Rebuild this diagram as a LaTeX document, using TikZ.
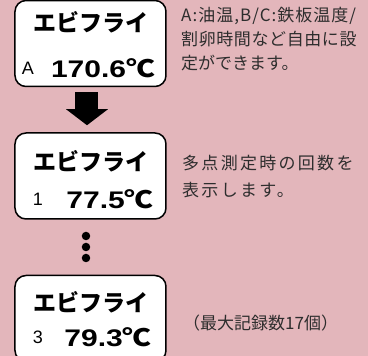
\documentclass[tikz,border=0pt]{standalone}
\usepackage{fontspec}
\usepackage{xcolor}
\usepackage{tikz}
\usetikzlibrary{positioning,arrows.meta}
\setmainfont{Liberation Sans}
\newfontfamily\jpfont{Noto Sans CJK JP}
\newfontfamily\numfont{Liberation Sans}[FakeStretch=1.25]
\definecolor{bgpink}{RGB}{227,182,187}
\definecolor{notegray}{RGB}{45,45,45}
\newcommand{\degc}{{\jpfont\bfseries\addfontfeature{FakeStretch=1.2}℃}}

\begin{document}
\begin{tikzpicture}[
  x=1pt, y=-1pt,
  node distance=45pt,
  lcdbox/.style={rectangle, rounded corners=11pt, draw=black, line width=1.5pt, fill=white, minimum width=151pt, minimum height=86pt, inner sep=0pt},
  titletext/.style={font=\fontsize{23}{23}\selectfont\jpfont\bfseries, inner sep=0pt},
  chantext/.style={font=\fontsize{18}{18}\selectfont, inner sep=0pt},
  valuetext/.style={font=\fontsize{24}{24}\selectfont\numfont\bfseries, inner sep=0pt},
  notetext/.style={font=\fontsize{17}{24}\selectfont\jpfont, text=notegray, align=left, anchor=north west, inner sep=0pt},
  dotnode/.style={circle, fill=black, minimum size=8.5pt, inner sep=0pt},
  bigarrow/.style={draw=black, line width=23pt, -{Triangle[width=41pt,length=16pt]}}
]
  % background and page size
  \fill[bgpink] (0,0) rectangle (368,356);
  \useasboundingbox (0,0) rectangle (368,356);
  \clip (0,0) rectangle (368,356);

  % the three display boxes
  \node[lcdbox] (box1) at (90.5,43.5) {};
  \node[lcdbox] (box2) [below=45pt of box1] {};
  \node[lcdbox] (box3) [below=55pt of box2] {};

  % texts shown on the displays
  \node[titletext] (name1) at (91,22) {エビフライ};
  \node[chantext]  (ch1)   at (28,68) {A};
  \node[valuetext] (val1)  at (103,68) {170.6\degc};
  \node[titletext] (name2) at (91,161) {エビフライ};
  \node[chantext]  (ch2)   at (38,199) {1};
  \node[valuetext] (val2)  at (110,199) {77.5\degc};
  \node[titletext] (name3) at (91,302) {エビフライ};
  \node[chantext]  (ch3)   at (38,337) {3};
  \node[valuetext] (val3)  at (108,337) {79.3\degc};

  % arrow and dots between the boxes
  \draw[bigarrow, shorten <=5pt, shorten >=7pt] ([xshift=-3.5pt]box1.south) -- ([xshift=-3.5pt]box2.north);
  \node[dotnode] (dot1) at (86,236) {};
  \node[dotnode] (dot2) at (86,247) {};
  \node[dotnode] (dot3) at (86,258) {};

  % notes on the right
  \node[notetext] (note1) at (181,7) {{\addfontfeature{LetterSpace=6}A:油温,B/C:鉄板温度/}\\{\addfontfeature{LetterSpace=3.5}割卵時間など自由に設}\\定ができます。};
  \node[notetext, font=\fontsize{17}{27}\selectfont\jpfont\addfontfeature{LetterSpace=13.5}] (note2) at (182,155) {多点測定時の回数を\\表示します。};
  \node[notetext, anchor=west] (note3) at (183,323) {（最大記録数17個）};
\end{tikzpicture}
\end{document}
